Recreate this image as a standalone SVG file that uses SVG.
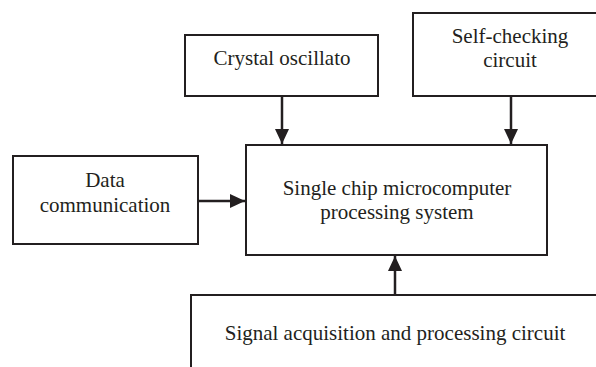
<svg xmlns="http://www.w3.org/2000/svg" width="596" height="367" viewBox="0 0 596 367">
<style>
.box{fill:#fff;stroke:#231f20;stroke-width:2}
.t{font-family:"Liberation Serif","Times New Roman",serif;font-size:21px;fill:#231f20;text-anchor:middle}
.c{stroke:#231f20;stroke-width:2.5;fill:none}
</style>
<defs>
<marker id="ah" viewBox="0 0 15 14" refX="15" refY="7" markerWidth="15" markerHeight="14" markerUnits="userSpaceOnUse" orient="auto">
<path d="M0,0 L15,7 L0,14 Z" fill="#231f20"/>
</marker>
</defs>
<rect width="596" height="367" fill="#fff"/>
<g id="crystal">
<rect class="box" x="185" y="35" width="193" height="61"/>
<text class="t" x="282" y="65">Crystal oscillato</text>
</g>
<g id="selfcheck">
<rect class="box" x="413" y="13" width="190" height="83"/>
<text class="t" x="510" y="43">Self-checking</text>
<text class="t" x="510" y="67">circuit</text>
</g>
<g id="data">
<rect class="box" x="13" y="156" width="185" height="88"/>
<text class="t" x="105" y="187">Data</text>
<text class="t" x="105" y="212">communication</text>
</g>
<g id="mcu">
<rect class="box" x="246" y="145" width="301" height="110"/>
<text class="t" x="397" y="195">Single chip microcomputer</text>
<text class="t" x="397" y="219">processing system</text>
</g>
<g id="signal">
<rect class="box" x="191" y="295" width="420" height="90"/>
<text class="t" x="395" y="340">Signal acquisition and processing circuit</text>
</g>
<g id="connectors">
<line class="c" x1="282" y1="96" x2="282" y2="144" marker-end="url(#ah)"/>
<line class="c" x1="511" y1="96" x2="511" y2="144" marker-end="url(#ah)"/>
<line class="c" x1="198" y1="201" x2="245" y2="201" marker-end="url(#ah)"/>
<line class="c" x1="395" y1="295" x2="395" y2="256" marker-end="url(#ah)"/>
</g>
</svg>
